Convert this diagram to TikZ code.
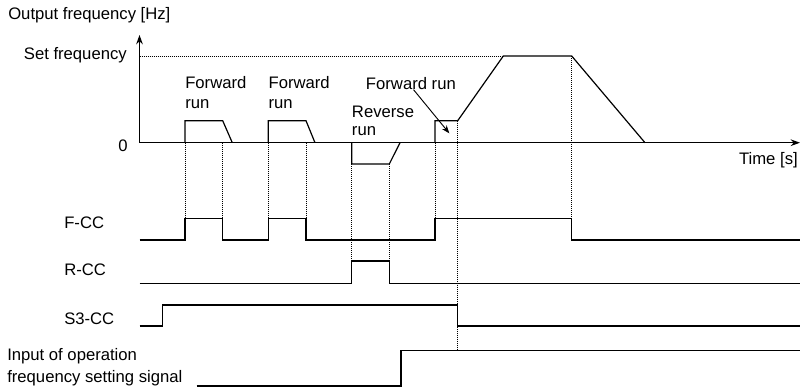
\documentclass[tikz,border=0pt]{standalone}
\usepackage{fontspec}
\setmainfont{Liberation Sans}
\usetikzlibrary{arrows.meta, positioning}

\begin{document}
\begin{tikzpicture}[x=0.75pt, y=-0.75pt,
  wave/.style={line width=0.9pt},
  guide/.style={densely dotted, line width=0.5pt},
  lbl/.style={inner sep=0pt, font=\fontsize{12.5}{15}\selectfont, align=left}]
  \useasboundingbox (0,0) rectangle (804,387);

  \coordinate (o) at (139.5,142.7);
  \coordinate (ytop) at (139.5,35);
  \coordinate (xend) at (800,142.7);
  \draw[wave, -{Stealth[length=7pt,width=5pt]}] (o) -- (ytop);
  \draw[wave, -{Stealth[length=7pt,width=5pt]}] (o) -- (xend);

  \node[lbl, anchor=west] (ylab) at (8,15) {Output frequency [Hz]};
  \node[lbl, anchor=east] (setf) at (127,55) {Set frequency};
  \node[lbl, anchor=east] (zero) at (128,146) {0};
  \node[lbl, anchor=east] (xlab) at (798,160) {Time [s]};

  \draw[guide] (o |- 0,56) -- (503.3,56);
  \draw[wave] (185,142.7) |- (222.7,120.7) -- (232.3,142.7);
  \draw[wave] (268.3,142.7) |- (306,120.7) -- (315,142.7);
  \draw[wave] (351.7,142.7) |- (389.3,164) -- (400,142.7);
  \draw[wave] (435,142.7) |- (457.7,120.7) -- (503.3,56) -- (571.7,56) -- (645,142.7);

  \node[lbl, anchor=west] (fwd1) at (185,93) {Forward\\run};
  \node[lbl, anchor=west] (fwd2) at (268.3,93) {Forward\\run};
  \node[lbl, anchor=west, font=\fontsize{12.5}{13.5}\selectfont] (rev) at (351.7,120.5) {Reverse\\run};
  \node[lbl, anchor=west] (fwd3) at (365.7,83.3) {Forward run};
  \coordinate (fwd3tip) at (449.3,133.3);
  \draw[line width=0.7pt, -{Stealth[length=6pt,width=4.5pt]}] ([xshift=2pt]fwd3.south) -- (fwd3tip);

  \foreach \x in {185,222.7,268.3,306,435}
    \draw[guide] (\x,142.7) -- (\x,218.3);
  \foreach \x in {351.7,389.3}
    \draw[guide] (\x,164) -- (\x,261);
  \draw[guide] (457.7,120.7) -- (457.7,350.7);
  \draw[guide] (571.7,56) -- (571.7,218.3);

  \node[lbl, anchor=west] (fcc) at (64,223) {F-CC};
  \node[lbl, anchor=west] (rcc) at (64,270) {R-CC};
  \node[lbl, anchor=west] (scc) at (64,319) {S3-CC};
  \node[lbl, anchor=west, font=\fontsize{12.5}{16.5}\selectfont] (inp) at (7,367.5) {Input of operation\\frequency setting signal};

  \draw[wave] (139.5,240) -| (185,218.3) -| (222.7,240) -| (268.3,218.3) -| (306,240)
    -| (435,218.3) -| (571.7,240) -- (800,240);
  \draw[wave] (139.5,283.3) -| (351.7,261) -| (389.3,283.3) -- (800,283.3);
  \draw[wave] (139.5,326) -| (162.7,305) -| (457.7,326) -- (800,326);
  \draw[wave] (196.7,386) -| (401,350.7) -- (800,350.7);
\end{tikzpicture}
\end{document}
